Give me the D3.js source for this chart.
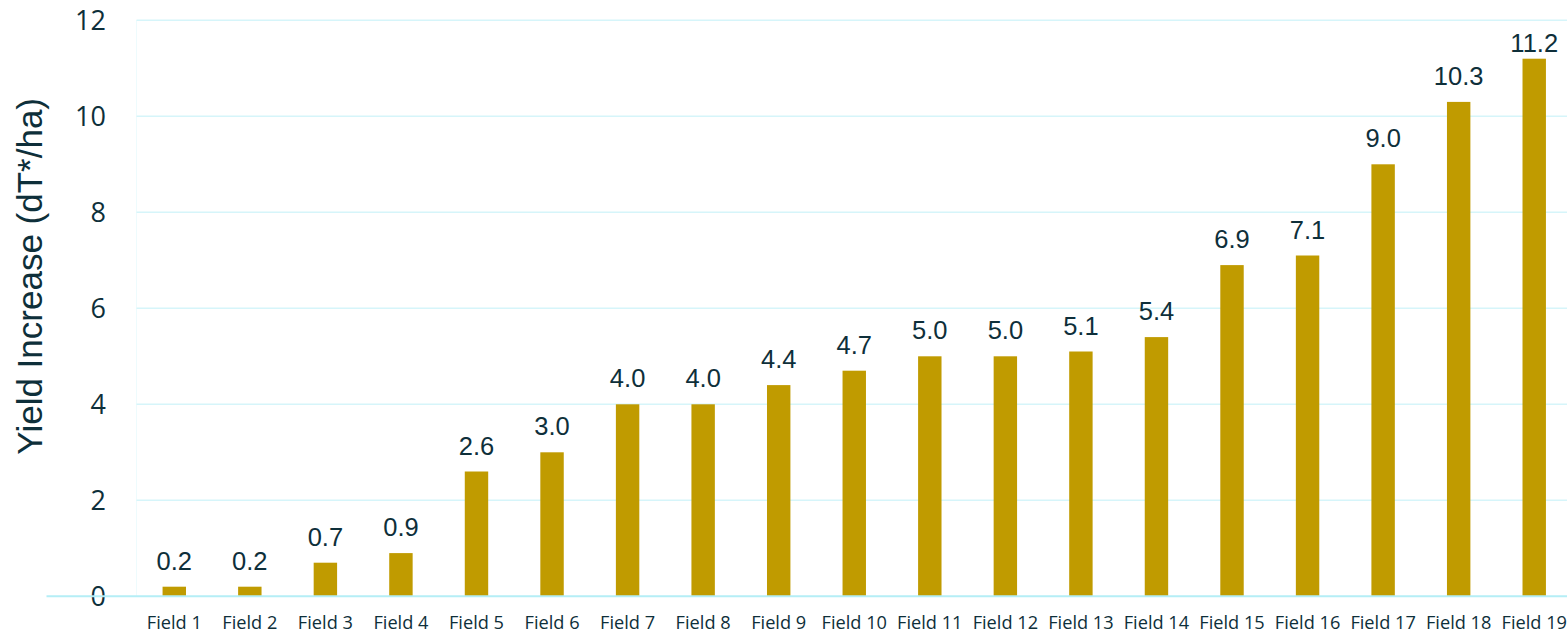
<!DOCTYPE html>
<html>
<head>
<meta charset="utf-8">
<script src="https://cdn.jsdelivr.net/npm/d3@7"></script>
<style>
  html, body { margin: 0; padding: 0; background: #ffffff; }
  svg { display: block; }
</style>
</head>
<body>
<svg id="chart" width="1567" height="633"></svg>
<script>
// Yield increase per field
const fields = ["Field 1","Field 2","Field 3","Field 4","Field 5","Field 6","Field 7","Field 8","Field 9","Field 10",
                "Field 11","Field 12","Field 13","Field 14","Field 15","Field 16","Field 17","Field 18","Field 19"];
const yieldIncrease = [0.2, 0.2, 0.7, 0.9, 2.6, 3.0, 4.0, 4.0, 4.4, 4.7, 5.0, 5.0, 5.1, 5.4, 6.9, 7.1, 9.0, 10.3, 11.2];
const yTicks = [0, 2, 4, 6, 8, 10, 12];
const yTitle = "Yield Increase (dT*/ha)";

const W = 1567, H = 633;
const plotLeft = 136.5, plotRight = 1572, plotTop = 20.3, plotBottom = 596.3;
const textColor = "#0e2f3a";
const barColor = "#c09b00";

const svg = d3.select("#chart");

const x = d3.scaleBand().domain(fields).range([plotLeft, plotRight]).paddingInner(0.69).paddingOuter(0.345);
const y = d3.scaleLinear().domain([0, 12]).range([plotBottom, plotTop]);

// plot frame: faint left edge
svg.append("line")
  .attr("x1", plotLeft).attr("x2", plotLeft).attr("y1", plotTop).attr("y2", plotBottom)
  .attr("stroke", "#eefbfd").attr("stroke-width", 1);

// horizontal gridlines
svg.append("g").selectAll("line")
  .data(yTicks.filter(t => t > 0))
  .join("line")
  .attr("x1", plotLeft).attr("x2", W)
  .attr("y1", d => y(d)).attr("y2", d => y(d))
  .attr("stroke", "#d6f5fa").attr("stroke-width", 1.5);

// y tick labels
svg.append("g").selectAll("text")
  .data(yTicks)
  .join("text")
  .attr("x", 106)
  .attr("y", d => y(d))
  .attr("dy", "0.36em")
  .attr("text-anchor", "end")
  .attr("font-family", "'Open Sans', sans-serif")
  .attr("font-size", 27)
  .attr("fill", textColor)
  .text(d => d);

// y axis title
svg.append("text")
  .attr("transform", `translate(42, ${(plotTop + plotBottom) / 2 - 32}) rotate(-90)`)
  .attr("text-anchor", "middle")
  .attr("font-family", "'Liberation Sans', Arial, sans-serif")
  .attr("font-size", 35)
  .attr("fill", textColor)
  .text(yTitle);

// bars
svg.append("g").selectAll("rect")
  .data(yieldIncrease)
  .join("rect")
  .attr("x", (d, i) => x(fields[i]))
  .attr("width", x.bandwidth())
  .attr("y", d => y(d))
  .attr("height", d => y(0) - y(d))
  .attr("fill", barColor);

// baseline
svg.append("line")
  .attr("x1", plotLeft - 90).attr("x2", W)
  .attr("y1", y(0)).attr("y2", y(0))
  .attr("stroke", "#b5eef6").attr("stroke-width", 2);

// value labels
svg.append("g").selectAll("text")
  .data(yieldIncrease)
  .join("text")
  .attr("x", (d, i) => x(fields[i]) + x.bandwidth() / 2)
  .attr("y", d => Math.max(y(d) - 17, 52))
  .attr("text-anchor", "middle")
  .attr("font-family", "'Liberation Sans', Arial, sans-serif")
  .attr("font-size", 25.5)
  .attr("fill", textColor)
  .text(d => d.toFixed(1));

// category labels
svg.append("g").selectAll("text")
  .data(fields)
  .join("text")
  .attr("x", d => x(d) + x.bandwidth() / 2)
  .attr("y", 629)
  .attr("text-anchor", "middle")
  .attr("font-family", "'Open Sans', sans-serif")
  .attr("font-size", 18.2)
  .attr("fill", textColor)
  .text(d => d);
</script>
</body>
</html>
